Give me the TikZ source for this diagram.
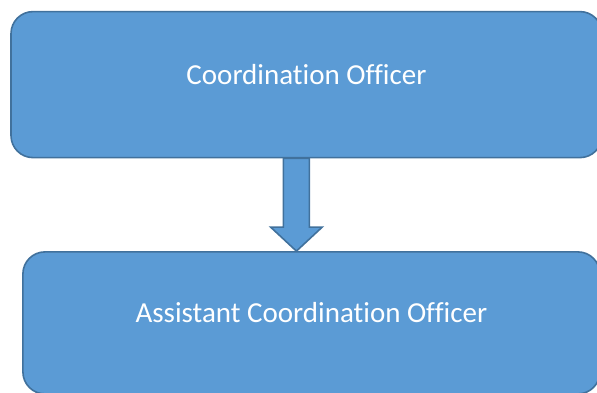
\documentclass[tikz,border=0pt]{standalone}
\usepackage{fontspec}
\setmainfont{Carlito}[Ligatures=NoCommon]
\usetikzlibrary{calc}
\definecolor{boxfill}{HTML}{5B9BD5}
\definecolor{boxline}{HTML}{41719C}
\tikzset{
    post/.style={draw=boxline, fill=boxfill, line width=1.6pt, rounded corners=22pt,
        text=white, font=\fontsize{29}{35}\selectfont, inner sep=0pt,
        text height=12pt, text depth=12pt},
    blockarrow/.style={draw=boxline, fill=boxfill, line width=1.6pt, line join=miter}
}
\begin{document}
\begin{tikzpicture}[x=1pt,y=-1pt]
\useasboundingbox (0,0) rectangle (597,392);
\node[post, minimum width=591pt, minimum height=146pt] (officer) at (306.5,84.6) {Coordination Officer};
\node[post, minimum width=577pt, minimum height=142pt] (assistant) at (311.4,322.9) {Assistant Coordination Officer};
\coordinate (tail) at (296.4,0 |- officer.south);
\coordinate (tip) at (296.4,0 |- assistant.north);
\draw[blockarrow]
    ($(tail)+(-13,0)$) -- ($(tail)+(13,0)$) -- ($(tip)+(13,-24)$) -- ($(tip)+(25.8,-24)$)
    -- (tip) -- ($(tip)+(-25.8,-24)$) -- ($(tip)+(-13,-24)$) -- cycle;
\end{tikzpicture}
\end{document}
